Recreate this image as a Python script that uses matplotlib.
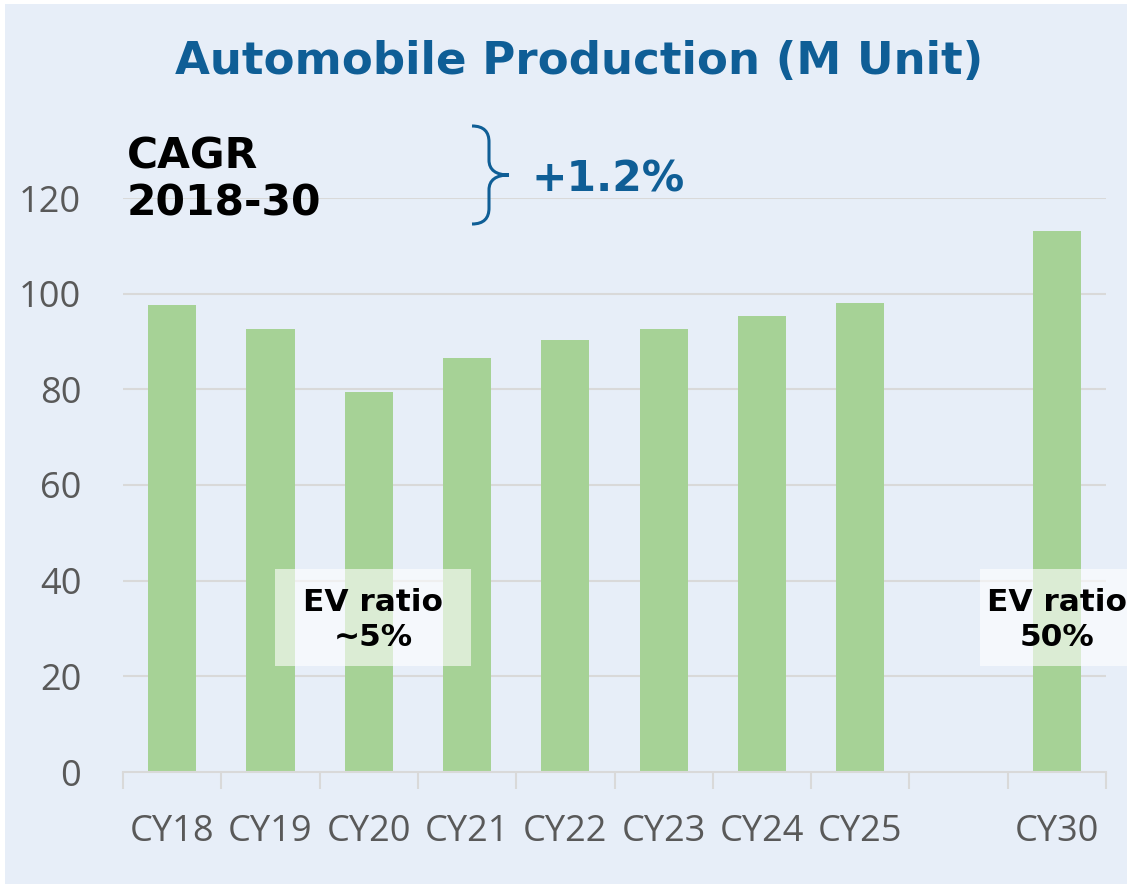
import numpy as np
import matplotlib
matplotlib.use("Agg")
import matplotlib.pyplot as plt
from matplotlib.path import Path
from matplotlib.patches import PathPatch, Rectangle

# ----------- DATA ------------- #
categories = ["CY18", "CY19", "CY20", "CY21", "CY22", "CY23", "CY24", "CY25", "", "CY30"]
production = [97.7, 92.7, 79.5, 86.6, 90.4, 92.7, 95.4, 98.1, np.nan, 113.2]
yticks = [0, 20, 40, 60, 80, 100, 120]
title = "Automobile Production (M Unit)"
cagr_label = "CAGR\n2018-30"
cagr_value = "+1.2%"
ev_notes = [(2, "EV ratio\n~5%"), (9, "EV ratio\n50%")]

# ----------- STYLE ------------- #
W, H = 1127, 885
bg = "#E7EEF8"
blue = "#0F5E96"
green = "#A6D296"
grid = "#D9D9D9"
label_grey = "#595959"
# (box left offset, text offset) from category left edge, in category units
note_offsets = [(-0.455, 0.545), (-0.28, 0.5)]


def px(x, y):
    # figure pixel (from top-left) -> figure fraction
    return (x / W, 1 - y / H)


fig = plt.figure(figsize=(W / 100, H / 100), dpi=100)
fig.patch.set_facecolor("white")
fig.patches.append(Rectangle(px(5, 884), (W - 5) / W, 880 / H, transform=fig.transFigure,
                             facecolor=bg, edgecolor="none", zorder=-5))

ax = fig.add_axes([123 / W, 1 - 772 / H, (1106 - 123) / W, (772 - 198) / H])
ax.set_facecolor("none")
ax.set_zorder(1)

xpos = np.arange(len(categories)) + 0.5
ax.bar(xpos, production, width=0.49, color=green, zorder=2)

ax.set_xlim(0, len(categories))
ax.set_ylim(0, 120)
ax.set_yticks(yticks)
ax.set_yticklabels([str(v) for v in yticks], fontsize=26, color=label_grey, family="Open Sans")
ax.tick_params(axis="y", length=0, pad=30)
for v in yticks[1:]:
    ax.axhline(v, color=grid, lw=1.5, zorder=1)

# category boundaries as major ticks, names as minor ticks
ax.set_xticks(np.arange(len(categories) + 1))
ax.set_xticklabels([])
ax.tick_params(axis="x", which="major", length=12, width=1.5, color=grid)
ax.set_xticks(xpos, minor=True)
ax.set_xticklabels(categories, minor=True, fontsize=26, color=label_grey, family="Open Sans")
ax.tick_params(axis="x", which="minor", length=0, pad=30)

for s in ["top", "right", "left"]:
    ax.spines[s].set_visible(False)
ax.spines["bottom"].set_color(grid)
ax.spines["bottom"].set_linewidth(1.5)

# EV ratio notes
for (i, txt), (box_dx, txt_dx) in zip(ev_notes, note_offsets):
    ax.add_patch(Rectangle((i + box_dx, 22.2), 2.0, 20.3, facecolor="white", alpha=0.6,
                           edgecolor="none", zorder=3, clip_on=False))
    ax.text(i + txt_dx, 31.8, txt, ha="center", va="center", fontsize=22.5, fontweight="bold",
            color="black", linespacing=1.25, zorder=4, clip_on=False)

# title and CAGR
fig.text(*px(579, 62), title, ha="center", va="center", fontsize=32.5, fontweight="bold", color=blue)
fig.text(*px(127, 180), cagr_label, ha="left", va="center", fontsize=30.5, fontweight="bold",
         color="black", linespacing=1.17)
fig.text(*px(532, 179), cagr_value, ha="left", va="center", fontsize=30.5, fontweight="bold", color=blue)

# curly brace
verts = [(472, 126), (484, 126), (489, 132), (489, 142), (489, 160),
         (489, 170), (496, 175), (509, 175),
         (496, 175), (489, 180), (489, 190), (489, 208),
         (489, 218), (484, 224), (472, 224)]
codes = [Path.MOVETO, Path.CURVE4, Path.CURVE4, Path.CURVE4, Path.LINETO,
         Path.CURVE4, Path.CURVE4, Path.CURVE4,
         Path.CURVE4, Path.CURVE4, Path.CURVE4, Path.LINETO,
         Path.CURVE4, Path.CURVE4, Path.CURVE4]
brace = Path([px(x, y) for x, y in verts], codes)
fig.patches.append(PathPatch(brace, transform=fig.transFigure, facecolor="none",
                             edgecolor=blue, lw=2.2))

fig.savefig("out.png", dpi=100, facecolor=fig.get_facecolor())
